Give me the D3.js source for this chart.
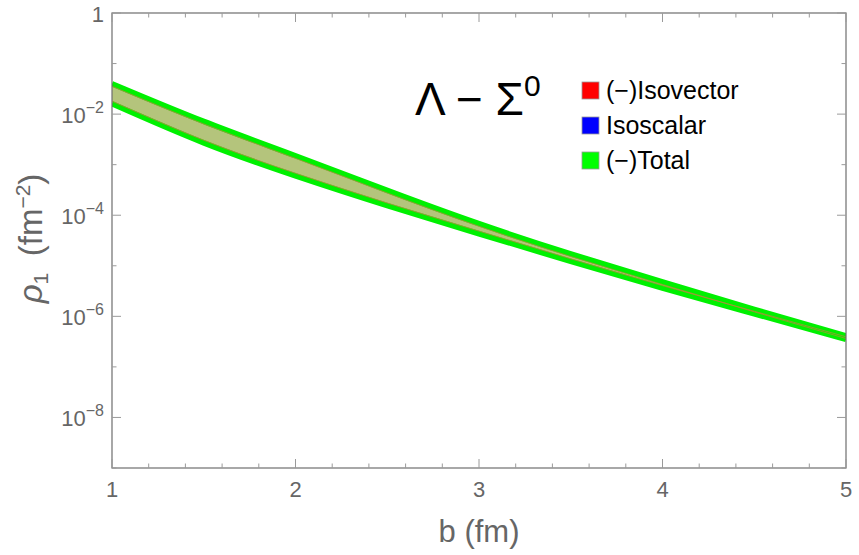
<!DOCTYPE html>
<html>
<head>
<meta charset="utf-8">
<script src="https://cdn.jsdelivr.net/npm/d3@7"></script>
<style>
  body { margin: 0; background: #fff; }
  svg { display: block; font-family: "Liberation Sans", Arial, sans-serif; }
</style>
</head>
<body>
<div id="main-container"></div>
<script>
const WIDTH = 859
const HEIGHT = 555
const LEFT = 112, RIGHT = 846, TOP = 13, BOTTOM = 468

const B_VALUES = [1, 1.5, 2, 2.5, 3, 3.5, 4, 4.5, 5]
const TOTAL_UPPER = [4.0e-2, 7.2e-3, 1.5e-3, 3.1e-4, 6.8e-5, 1.72e-5, 4.8e-6, 1.38e-6, 4.1e-7]
const TOTAL_LOWER = [1.6e-2, 2.7e-3, 6.0e-4, 1.55e-4, 4.3e-5, 1.22e-5, 3.6e-6, 1.12e-6, 3.5e-7]

const X_MAJOR = [1, 2, 3, 4, 5]
const Y_MAJOR_EXP = [0, -2, -4, -6, -8]
const LEGEND_LABELS = ['(\u2212)Isovector', 'Isoscalar', '(\u2212)Total']
const LEGEND_COLORS = ['#ff0000', '#0000ff', '#00ff00']

const X_SCALE = d3.scaleLinear().domain([1, 5]).range([LEFT, RIGHT])
const Y_SCALE = d3.scaleLog().domain([1e-9, 1]).range([BOTTOM, TOP])

const SVG = d3.select('#main-container').append('svg')
    .attr('width', WIDTH)
    .attr('height', HEIGHT)

SVG.append('clipPath').attr('id', 'plot-clip')
    .append('rect')
    .attr('x', LEFT).attr('y', TOP)
    .attr('width', RIGHT - LEFT).attr('height', BOTTOM - TOP)

const rows = B_VALUES.map((b, i) => ({ b, hi: TOTAL_UPPER[i], lo: TOTAL_LOWER[i] }))

const plot = SVG.append('g').attr('clip-path', 'url(#plot-clip)')

// filled band between the curves
plot.append('path')
    .datum(rows)
    .attr('fill', '#b4c47c')
    .attr('d', d3.area()
        .x(d => X_SCALE(d.b))
        .y0(d => Y_SCALE(d.lo))
        .y1(d => Y_SCALE(d.hi))
        .curve(d3.curveNatural))

const lineHi = d3.line().x(d => X_SCALE(d.b)).y(d => Y_SCALE(d.hi)).curve(d3.curveNatural)
const lineLo = d3.line().x(d => X_SCALE(d.b)).y(d => Y_SCALE(d.lo)).curve(d3.curveNatural)

plot.selectAll('path.edge')
    .data([lineHi, lineLo])
    .enter()
    .append('path')
    .attr('class', 'edge')
    .attr('fill', 'none')
    .attr('stroke', '#00f000')
    .attr('stroke-width', 5.5)
    .attr('d', f => f(rows))

// thin brownish inner edges
plot.selectAll('path.inner')
    .data([[lineHi, 2.6], [lineLo, -2.6]])
    .enter()
    .append('path')
    .attr('class', 'inner')
    .attr('fill', 'none')
    .attr('stroke', '#b8873c')
    .attr('stroke-opacity', 0.8)
    .attr('stroke-width', 0.9)
    .attr('transform', d => `translate(0, ${d[1]})`)
    .attr('d', d => d[0](rows))

// frame
SVG.append('rect')
    .attr('x', LEFT).attr('y', TOP)
    .attr('width', RIGHT - LEFT).attr('height', BOTTOM - TOP)
    .attr('fill', 'none')
    .attr('stroke', '#6e6e6e')
    .attr('stroke-width', 1.2)

const ticks = SVG.append('g').attr('stroke', '#9a9a9a').attr('stroke-width', 1)

// x ticks, bottom and top
const xTicks = d3.range(0, 21).map(i => 1 + i * 0.2)
xTicks.forEach(v => {
    const major = Math.abs(v - Math.round(v)) < 1e-6
    const len = major ? 9 : 4.5
    const x = X_SCALE(v)
    ticks.append('line').attr('x1', x).attr('x2', x).attr('y1', BOTTOM).attr('y2', BOTTOM - len)
    ticks.append('line').attr('x1', x).attr('x2', x).attr('y1', TOP).attr('y2', TOP + len)
})

// y ticks, left and right
d3.range(-9, 1).forEach(e => {
    const major = e % 2 === 0
    const len = major ? 9 : 4.5
    const y = Y_SCALE(Math.pow(10, e))
    ticks.append('line').attr('x1', LEFT).attr('x2', LEFT + len).attr('y1', y).attr('y2', y)
    ticks.append('line').attr('x1', RIGHT).attr('x2', RIGHT - len).attr('y1', y).attr('y2', y)
})

// x tick labels
SVG.selectAll('text.xlab')
    .data(X_MAJOR)
    .enter()
    .append('text')
    .attr('class', 'xlab')
    .attr('x', d => X_SCALE(d))
    .attr('y', BOTTOM + 29)
    .attr('text-anchor', 'middle')
    .attr('fill', '#666')
    .style('font-size', '22px')
    .text(d => d)

// y tick labels
const ylab = SVG.selectAll('text.ylab')
    .data(Y_MAJOR_EXP)
    .enter()
    .append('text')
    .attr('class', 'ylab')
    .attr('x', LEFT - 8)
    .attr('y', d => Y_SCALE(Math.pow(10, d)) + 9)
    .attr('text-anchor', 'end')
    .attr('fill', '#666')
    .style('font-size', '22px')

ylab.filter(d => d === 0).text('1')
ylab.filter(d => d !== 0).each(function (d) {
    const t = d3.select(this)
    t.append('tspan').text('10')
    t.append('tspan').attr('dy', -10).style('font-size', '16px').text('\u2212' + (-d))
})

// axis titles
SVG.append('text')
    .attr('x', (LEFT + RIGHT) / 2)
    .attr('y', 542)
    .attr('text-anchor', 'middle')
    .attr('fill', '#666')
    .style('font-size', '31px')
    .text('b (fm)')

const ytitle = SVG.append('text')
    .attr('transform', `translate(42, ${(TOP + BOTTOM) / 2 - 2}) rotate(-90)`)
    .attr('text-anchor', 'middle')
    .attr('fill', '#666')
    .style('font-size', '33px')
ytitle.append('tspan').style('font-style', 'italic').text('\u03c1')
ytitle.append('tspan').attr('dy', 6).style('font-size', '21px').text('1')
ytitle.append('tspan').attr('dy', -6).text('\u2002(fm')
ytitle.append('tspan').attr('dy', -12).style('font-size', '21px').text('\u22122')
ytitle.append('tspan').attr('dy', 12).text(')')

// plot label
const label = SVG.append('text')
    .attr('x', 415)
    .attr('y', 115)
    .attr('fill', '#000')
    .style('font-size', '46px')
label.append('tspan').text('\u039b \u2212 \u03a3')
label.append('tspan').attr('dy', -19).style('font-size', '30px').text('0')

// legend
const LEGEND = SVG.append('g').attr('transform', 'translate(582, 82)')

LEGEND.selectAll('rect')
    .data(LEGEND_LABELS)
    .enter()
    .append('rect')
    .attr('x', 0)
    .attr('y', (_, i) => i * 35)
    .attr('width', 17)
    .attr('height', 17)
    .attr('fill', (_, i) => LEGEND_COLORS[i])
    .attr('stroke', '#999')
    .attr('stroke-width', 0.8)

LEGEND.selectAll('text')
    .data(LEGEND_LABELS)
    .enter()
    .append('text')
    .attr('x', 24)
    .attr('y', (_, i) => i * 35 + 17)
    .attr('fill', '#000')
    .style('font-size', '25px')
    .text(d => d)
</script>
</body>
</html>
